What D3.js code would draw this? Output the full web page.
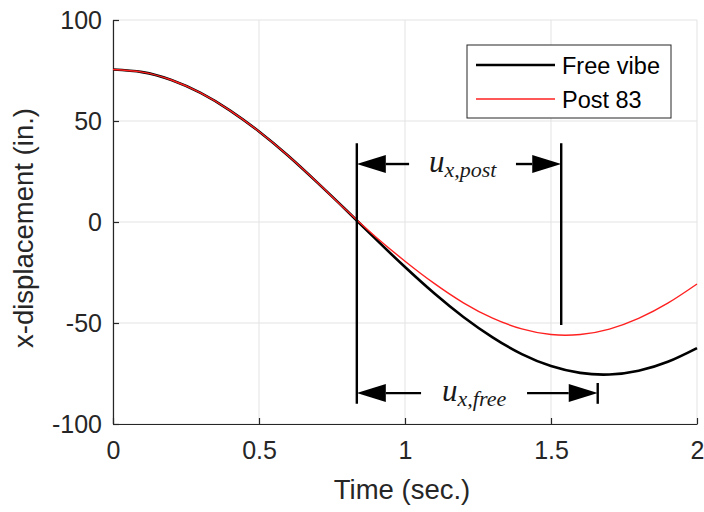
<!DOCTYPE html>
<html>
<head>
<meta charset="utf-8">
<script src="https://cdn.jsdelivr.net/npm/d3@7/dist/d3.min.js"></script>
<style>
  html, body { margin: 0; padding: 0; background: #fff; }
  svg { display: block; }
</style>
</head>
<body>
<svg id="chart" width="704" height="512"></svg>
<script>
// Time samples (sec.)
const time = [0, 0.1, 0.2, 0.3, 0.4, 0.5, 0.6, 0.7, 0.8, 0.9, 1.0,
              1.1, 1.2, 1.3, 1.4, 1.5, 1.6, 1.7, 1.8, 1.9, 2.0];
// x-displacement (in.) without post
const freeVibe = [75.5, 74.2, 70.3, 63.9, 55.3, 44.8, 32.8, 19.5, 5.7, -8.5, -22.3,
                  -35.3, -47.0, -57.1, -65.4, -71.3, -74.7, -75.5, -73.6, -69.2, -62.4];
// x-displacement (in.) with post 83
const post83 = [75.5, 74.2, 70.3, 63.9, 55.3, 44.8, 32.8, 19.5, 5.7, -7.4, -19.4,
                -30.4, -40.0, -47.6, -52.9, -55.7, -55.7, -53.0, -47.7, -40.2, -30.7];

const xTicks = [0, 0.5, 1, 1.5, 2];
const yTicks = [-100, -50, 0, 50, 100];
const seriesNames = ["Free vibe", "Post 83"];

// Dimension markers: start time, end time, top, bottom, arrow level (data units)
const startMark = { t: 0.835, top: 39, bottom: -90 };
const postMark = { t: 1.535, top: 39, bottom: -51, arrowY: 28.7, tailL: 1.014, tailR: 1.38, labelT: 1.082, sub: "x,post" };
const freeMark = { t: 1.66, top: -79.7, bottom: -90, arrowY: -84.7, tailL: 1.055, tailR: 1.418, labelT: 1.127, sub: "x,free" };

const svg = d3.select("#chart");
const margin = { left: 113, right: 7, top: 20, bottom: 88 };
const W = 704, H = 512;

const x = d3.scaleLinear().domain([0, 2]).range([margin.left, W - margin.right]);
const y = d3.scaleLinear().domain([-100, 100]).range([H - margin.bottom, margin.top]);

const axisColor = "#262626";
const sans = "'Liberation Sans', Arial, sans-serif";
const plainNum = d => String(d);

// grid
const grid = svg.append("g");
grid.selectAll("line.gx").data(xTicks).join("line")
  .attr("x1", d => x(d)).attr("x2", d => x(d))
  .attr("y1", y(-100)).attr("y2", y(100))
  .attr("stroke", "#e3e3e3").attr("stroke-width", 1);
grid.selectAll("line.gy").data(yTicks).join("line")
  .attr("x1", x(0)).attr("x2", x(2))
  .attr("y1", d => y(d)).attr("y2", d => y(d))
  .attr("stroke", "#e3e3e3").attr("stroke-width", 1);

// axes
const xAxis = d3.axisBottom(x).tickValues(xTicks).tickSizeInner(-6).tickSizeOuter(0)
  .tickPadding(18).tickFormat(plainNum);
const gx = svg.append("g").attr("transform", `translate(0,${y(-100)})`).call(xAxis);
const yAxis = d3.axisLeft(y).tickValues(yTicks).tickSizeInner(-6).tickSizeOuter(0)
  .tickPadding(11).tickFormat(plainNum);
const gy = svg.append("g").attr("transform", `translate(${x(0)},0)`).call(yAxis);

[gx, gy].forEach(g => {
  g.select(".domain").attr("stroke", axisColor).attr("stroke-width", 1.2);
  g.selectAll(".tick line").attr("stroke", axisColor).attr("stroke-width", 1.2);
  g.selectAll(".tick text").attr("fill", axisColor)
    .style("font-family", sans).style("font-size", "25px");
});
gy.selectAll(".tick text").attr("x", -11);
gx.selectAll(".tick text").attr("dy", "0.71em").attr("y", 17);

// axis titles
svg.append("text")
  .attr("x", (x(0) + x(2)) / 2 - 3).attr("y", 499)
  .attr("text-anchor", "middle").attr("fill", axisColor)
  .style("font-family", sans).style("font-size", "27.5px")
  .text("Time (sec.)");
svg.append("text")
  .attr("transform", `translate(33,${(y(-100) + y(100)) / 2 + 6}) rotate(-90)`)
  .attr("text-anchor", "middle").attr("fill", axisColor)
  .style("font-family", sans).style("font-size", "27.5px")
  .text("x-displacement (in.)");

// curves
const line = d3.line().x(d => x(d[0])).y(d => y(d[1])).curve(d3.curveNatural);
svg.append("path")
  .datum(time.map((t, i) => [t, freeVibe[i]]))
  .attr("d", line).attr("fill", "none")
  .attr("stroke", "#000").attr("stroke-width", 2.6);
svg.append("path")
  .datum(time.map((t, i) => [t, post83[i]]))
  .attr("d", line).attr("fill", "none")
  .attr("stroke", "#ff2020").attr("stroke-width", 1.4);

// dimension markers
const ann = svg.append("g");
[startMark, postMark, freeMark].forEach(m => {
  ann.append("line")
    .attr("x1", x(m.t)).attr("x2", x(m.t))
    .attr("y1", y(m.top)).attr("y2", y(m.bottom))
    .attr("stroke", "#000").attr("stroke-width", 2.4);
});

function arrow(xTail, xTip, yy) {
  const dir = xTip > xTail ? 1 : -1;
  const headLen = 29, half = 9;
  const xBase = xTip - dir * headLen;
  ann.append("line")
    .attr("x1", xTail).attr("x2", xBase)
    .attr("y1", yy).attr("y2", yy)
    .attr("stroke", "#000").attr("stroke-width", 2.4);
  ann.append("path")
    .attr("d", `M${xTip},${yy}L${xBase},${yy - half}L${xBase},${yy + half}Z`)
    .attr("fill", "#000");
}

[postMark, freeMark].forEach(m => {
  const yy = y(m.arrowY);
  arrow(x(m.tailL), x(startMark.t), yy);
  arrow(x(m.tailR), x(m.t), yy);
  const label = ann.append("text")
    .attr("x", x(m.labelT)).attr("y", yy + 8)
    .style("font-family", "'Liberation Serif', 'Times New Roman', serif")
    .style("font-style", "italic").attr("fill", "#1a1a1a");
  label.append("tspan").style("font-size", "31px").text("u");
  label.append("tspan").style("font-size", "22px").attr("dy", 5).text(m.sub);
});

// legend
const lg = svg.append("g");
lg.append("rect")
  .attr("x", 467).attr("y", 45).attr("width", 204).attr("height", 73)
  .attr("fill", "#fff").attr("stroke", axisColor).attr("stroke-width", 1);
const legendItems = [
  { name: seriesNames[0], color: "#000", width: 2.6 },
  { name: seriesNames[1], color: "#ff2020", width: 1.4 }
];
legendItems.forEach((d, i) => {
  const ly = 65 + i * 34;
  lg.append("line")
    .attr("x1", 476).attr("x2", 555).attr("y1", ly).attr("y2", ly)
    .attr("stroke", d.color).attr("stroke-width", d.width);
  lg.append("text")
    .attr("x", 562).attr("y", ly + 9)
    .attr("fill", "#000")
    .style("font-family", sans).style("font-size", "23.5px")
    .text(d.name);
});
</script>
</body>
</html>
